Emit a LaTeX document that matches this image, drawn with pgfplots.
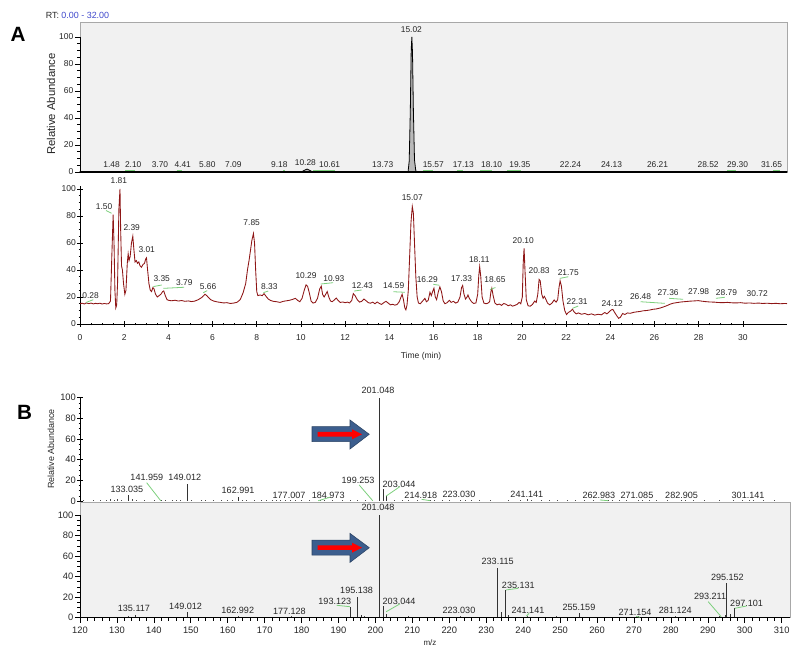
\documentclass[border=0pt]{standalone}
\usepackage{pgfplots}
\pgfplotsset{compat=1.18}
\usepackage{fontspec}
\setmainfont{Liberation Sans}

\definecolor{bg}{HTML}{F1F1F1}
\definecolor{frame}{HTML}{A8A8A8}
\definecolor{trace}{HTML}{8E1616}
\definecolor{lead}{HTML}{7CCF7C}
\definecolor{arrowblue}{HTML}{3C5E8E}
\definecolor{rtblue}{HTML}{3F48CC}

\pgfplotsset{
  base/.style={scale only axis, clip=false,
    axis line style={black, line width=0.5pt, -},
    tick style={black, line width=0.45pt},
    tick align=outside, major tick length=3.8pt, minor tick length=2.2pt,
    /pgf/number format/assume math mode=true,
    yticklabel style={inner sep=1pt},
  },
  chrom/.style={base, width=530.25pt, xmin=0, xmax=32,
    tick label style={font=\fontsize{6.4}{7}\selectfont, text=black!85},
    xticklabel style={inner sep=1pt, yshift=-4.5pt},
    ytick={0,20,...,100}, minor y tick num=3},
  spec/.style={base, width=532.5pt, xmin=120, xmax=312.25,
    tick label style={font=\fontsize{7}{8}\selectfont, text=black!85},
    xticklabel style={inner sep=1pt, yshift=-2.2pt},
    ytick={0,20,...,100}, minor y tick num=3},
}
\tikzset{
  pl/.style={font=\fontsize{6.3}{7}\selectfont, inner sep=0pt, text=black!85},
  sl/.style={font=\fontsize{6.8}{8}\selectfont, inner sep=0pt, text=black!85},
  gl/.style={draw=lead, line width=0.6pt},
}
% label and leader helpers (expanded so they survive pgfplots' deferred drawing)
\newcommand\lablist[2]{\foreach \px/\py/\ptxt in {#2}
  {\edef\tmp{\noexpand\node[#1] at (axis cs:\px,\py) {\ptxt};}\tmp}}
\newcommand\leadlist[1]{\foreach \pa/\pb/\pc/\pd in {#1}
  {\edef\tmp{\noexpand\draw[gl] (axis cs:\pa,\pb) -- (axis cs:\pc,\pd);}\tmp}}

\begin{document}
\begin{tikzpicture}

% ---------- A: top chromatogram ----------
\begin{axis}[chrom, at={(60pt,-129pt)}, anchor=south west,
  height=112.5pt, ymin=0, ymax=111.1,
  axis background/.style={fill=bg}, axis line style={draw=frame},
  xtick=\empty, ytick pos=left]
\addplot[draw=black, line width=0.6pt, fill=gray!55] coordinates {
  (0,0.3) (10.05,0.3) (10.15,1.2) (10.28,2.2) (10.4,1.2) (10.5,0.3)
  (14.85,0.3) (14.9,8) (14.95,45) (14.99,90) (15.02,100) (15.05,88)
  (15.09,45) (15.14,9) (15.2,0.6) (15.3,0.3) (32,0.3)} \closedcycle;
\draw[black, line width=0.5pt] (axis cs:0,0) -- (axis cs:0,100);
\draw[black, line width=1.3pt] (axis cs:0,0) -- (axis cs:32,0);
\node[pl] at (axis cs:15.0,105.7) {15.02};
\node[pl] at (axis cs:10.2,6.7) {10.28};
\lablist{pl}{1.43/5.2/1.48, 2.41/5.2/2.10, 3.62/5.2/3.70, 4.65/5.2/4.41,
  5.76/5.2/5.80, 6.94/5.2/7.09, 9.02/5.2/9.18, 11.3/5.2/10.61,
  13.7/5.2/13.73, 15.99/5.2/15.57, 17.35/5.2/17.13, 18.63/5.2/18.10,
  19.91/5.2/19.35, 22.2/5.2/22.24, 24.06/5.2/24.13, 26.14/5.2/26.21,
  28.43/5.2/28.52, 29.76/5.2/29.30, 31.3/5.2/31.65}
\leadlist{2.04/1/2.49/1, 4.37/1/4.6/1, 9.2/1/9.3/1, 10.56/1/11.54/1,
  15.53/1/15.98/1, 17.06/1/17.33/1, 18.1/1/18.63/1, 19.32/1/19.98/1,
  29.3/1/29.7/1, 31.36/1/31.67/1}
\end{axis}

% ---------- A: bottom chromatogram ----------
\begin{axis}[chrom, at={(60pt,-243pt)}, anchor=south west,
  height=103.28pt, ymin=0, ymax=102,
  axis x line=bottom, axis y line=left, axis line style={-},
  xtick={0,2,...,30}, minor x tick num=3]
\addplot[trace, line width=0.65pt] coordinates {
(0.00,15.0) (0.10,15.4) (0.20,14.8) (0.28,15.6) (0.40,15.1) (0.50,15.5)
(0.60,14.9) (0.70,15.3) (0.80,15.0) (0.90,15.4) (1.00,14.8) (1.10,15.2)
(1.20,14.9) (1.30,15.1) (1.38,17) (1.44,50) (1.50,81) (1.54,60) (1.58,25)
(1.62,12) (1.66,14) (1.70,30) (1.76,85) (1.81,100) (1.84,70) (1.88,43)
(1.92,40) (1.97,30) (2.03,22) (2.08,25) (2.14,45) (2.18,52) (2.22,47)
(2.27,50) (2.33,60) (2.39,65) (2.44,55) (2.49,46) (2.55,47) (2.60,45)
(2.66,46) (2.72,43) (2.78,42) (2.85,44) (2.92,45) (2.97,48) (3.01,49)
(3.06,40) (3.12,30) (3.18,25) (3.24,24) (3.30,27) (3.35,26) (3.42,22)
(3.50,20) (3.58,21) (3.66,22) (3.74,24) (3.79,24.5) (3.86,21) (3.94,18)
(4.02,17.5) (4.15,17.2) (4.30,17.6) (4.45,17.0) (4.60,17.4) (4.75,16.8)
(4.90,17.1) (5.05,16.6) (5.20,17.0) (5.35,18.0) (5.50,19.5) (5.60,21.0)
(5.66,22) (5.74,21) (5.82,19.5) (5.92,18) (6.05,17.0) (6.20,16.4)
(6.35,16.0) (6.50,15.6) (6.65,15.8) (6.80,15.2) (6.95,15.5) (7.10,16.0)
(7.25,18) (7.38,23) (7.50,30) (7.58,40) (7.66,48) (7.72,55) (7.78,62)
(7.85,67) (7.90,60) (7.95,40) (8.00,24) (8.05,21) (8.15,21.5) (8.25,21.0)
(8.33,22.5) (8.42,20.5) (8.52,18.5) (8.62,17.5) (8.75,16.8) (8.90,16.5)
(9.05,16.0) (9.20,16.8) (9.35,17.2) (9.50,17.6) (9.65,18.4) (9.75,19)
(9.85,17.5) (9.95,16.5) (10.05,19) (10.15,25) (10.23,29) (10.30,28)
(10.38,23) (10.46,17) (10.55,15.5) (10.65,16) (10.75,19) (10.85,26)
(10.92,28) (10.98,22) (11.05,20) (11.12,22) (11.19,24) (11.26,20)
(11.34,17) (11.42,16.5) (11.52,18) (11.60,19.2) (11.68,17.5) (11.78,16)
(11.90,16.3) (12.00,15.8) (12.10,16.2) (12.20,15.6) (12.30,17.5)
(12.37,22.5) (12.45,21) (12.55,18) (12.65,16.2) (12.75,16.8) (12.85,18.5)
(12.95,17.2) (13.05,15.8) (13.15,15.4) (13.25,16.2) (13.35,15.0)
(13.45,16.3) (13.55,15.2) (13.65,14.5) (13.75,15.8) (13.85,16.8)
(13.95,15.5) (14.05,14.2) (14.15,14.6) (14.25,14.0) (14.35,14.4)
(14.45,16.5) (14.53,20) (14.58,22) (14.64,18) (14.70,12) (14.75,10.5)
(14.80,14) (14.86,25) (14.92,50) (14.98,75) (15.04,87) (15.09,82)
(15.14,60) (15.20,35) (15.26,20) (15.32,15.5) (15.40,15.0) (15.48,16.5)
(15.56,18) (15.61,19) (15.68,16.5) (15.76,17.5) (15.84,23.5) (15.90,21)
(15.96,24) (16.02,26.5) (16.08,20) (16.14,18) (16.22,24) (16.29,27.5)
(16.36,24) (16.44,17) (16.52,15) (16.62,15.8) (16.72,17.5) (16.80,16)
(16.90,16.8) (17.00,15.5) (17.10,16.2) (17.20,20) (17.27,27) (17.32,28.5)
(17.38,22) (17.45,18.5) (17.52,20) (17.56,21.5) (17.62,19) (17.72,16.5)
(17.82,15.2) (17.92,15.6) (18.00,22) (18.05,36) (18.09,42.5) (18.14,35)
(18.20,20) (18.28,15.5) (18.38,15) (18.46,15.4) (18.54,16.5) (18.60,24)
(18.64,26.5) (18.70,21) (18.78,15.5) (18.88,14.2) (18.98,14.8)
(19.08,13.8) (19.18,15.2) (19.28,14.6) (19.38,13.5) (19.48,14.2)
(19.58,13.2) (19.68,13.8) (19.78,14.5) (19.88,16) (19.95,15) (20.02,20)
(20.06,45) (20.10,56) (20.14,40) (20.20,18) (20.28,13.5) (20.38,13.2)
(20.48,14.5) (20.58,17) (20.65,16) (20.72,22) (20.78,33) (20.83,32)
(20.90,22) (20.96,19) (21.02,20.5) (21.08,18.5) (21.16,15.5) (21.26,14.2)
(21.36,15.4) (21.46,17.8) (21.55,16.2) (21.62,18) (21.68,27) (21.73,32)
(21.79,28) (21.86,17) (21.94,10) (22.02,7) (22.10,8.5) (22.20,9.5)
(22.29,11) (22.36,9) (22.46,7.5) (22.56,8.2) (22.70,7.2) (22.85,7.8)
(23.00,6.8) (23.15,7.5) (23.30,6.6) (23.45,7.2) (23.60,6.8) (23.75,8.5)
(23.85,7.5) (23.95,9) (24.05,10.5) (24.12,10.8) (24.20,8.5) (24.30,6)
(24.38,4.2) (24.46,5) (24.56,7.8) (24.66,7.0) (24.78,8.2) (24.90,7.9)
(25.05,8.6) (25.20,9.0) (25.35,9.3) (25.50,9.8) (25.65,10.0) (25.80,10.4)
(25.94,10.9) (26.10,11.2) (26.25,11.8) (26.40,12.6) (26.55,13.5)
(26.70,14.6) (26.85,15.4) (27.00,15.8) (27.20,16.3) (27.40,16.6)
(27.60,16.9) (27.80,17.1) (27.98,17.3) (28.15,16.9) (28.30,16.6)
(28.50,16.3) (28.70,16.2) (28.90,15.9) (29.10,15.8) (29.30,16.0)
(29.50,15.7) (29.70,15.6) (29.90,15.8) (30.10,15.4) (30.30,15.6)
(30.50,15.3) (30.72,15.5) (30.90,15.2) (31.10,15.4) (31.30,15.1)
(31.50,15.3) (31.70,15.0) (31.90,15.2) (32.00,15.1)};
\lablist{pl}{0.48/20.7/0.28, 1.09/86.9/1.50, 1.76/106/1.81,
  2.34/71.4/2.39, 3.02/54.8/3.01, 3.7/33.3/3.35, 4.72/30.6/3.79,
  5.8/27.7/5.66, 7.77/75/7.85, 8.57/27.7/8.33, 10.23/35.8/10.29,
  11.49/33.8/10.93, 12.78/28.1/12.43, 14.2/28.1/14.59, 15.04/93.6/15.07,
  15.72/33.1/16.29, 17.27/33.8/17.33, 18.07/47.9/18.11, 18.78/32.6/18.65,
  20.06/61.7/20.10, 20.78/39.5/20.83, 22.1/38.3/21.75, 22.5/16.8/22.31,
  24.09/15.3/24.12, 25.37/20.2/26.48, 26.62/23.2/27.36, 28.0/23.7/27.98,
  29.26/23.2/28.79, 30.65/22.2/30.72}
\leadlist{0.28/16/0.6/18, 1.18/84/1.43/82, 3.32/27.7/3.7/28.9,
  3.77/26.4/4.71/27.2, 5.58/23.2/5.76/24.7, 8.3/23.2/8.52/24.4,
  10.89/29.6/11.46/30.6, 12.41/24.4/12.75/25.2, 14.18/23.9/14.7/23.5,
  15.99/29.4/16.26/28.7, 18.56/25.5/18.8/27, 21.72/33.8/22.1/35,
  22.29/11.6/22.55/13.3, 25.37/16.5/26.47/15.3, 26.67/19/27.3/18.3,
  28.78/19/29.19/19.8}
\end{axis}

% ---------- B: top spectrum ----------
\begin{axis}[spec, at={(60pt,-375.75pt)}, anchor=south west,
  height=78.25pt, ymin=0, ymax=101,
  axis y line=left, axis x line=none, axis line style={-}, xtick=\empty]
\addplot[ycomb, black!70, line width=0.45pt] coordinates {
(121,0.6) (123.5,0.5) (125.5,0.7) (127.2,1.2) (128.1,1.5) (129.3,0.9)
(130.2,1.6) (131.1,1.0) (134.1,1.8) (135.2,1.2) (137.5,0.6) (140,0.5)
(141.96,0.8) (143.1,0.7) (145,0.8) (146.2,0.6) (147.1,0.7) (150.1,1.0)
(152.8,0.6) (154,0.7) (156,0.6) (158.2,0.5) (160,0.7) (161.2,0.6)
(163.9,1.0) (165.1,0.7) (167.3,0.5) (169,0.8) (170.5,0.8) (172,0.9)
(173.2,1.0) (174.3,0.8) (175.5,0.9) (177.0,0.8) (178.4,0.6) (180,0.8)
(182.1,0.5) (184.97,1.0) (186.2,0.7) (188.3,0.6) (191,0.8) (193.2,0.7)
(195.1,0.9) (197.3,0.6) (199.25,1.0) (205.1,0.7) (207.2,0.6) (209,0.9)
(211.2,0.6) (214.9,1.0) (215.8,1.1) (218,0.6) (220.1,0.7) (223.03,1.2)
(224.2,0.9) (226,0.6) (228.1,0.7) (231,0.6) (236,0.7) (239.2,1.0)
(241.14,1.5) (242.2,1.2) (245,0.8) (247,0.6) (249.3,0.7) (252,0.6)
(254,0.6) (256.5,0.6) (259,0.7) (262.98,0.8) (264,0.9) (266.1,0.6)
(268,0.8) (271.09,0.9) (272.2,0.7) (274.1,0.9) (276,0.6) (279,0.8)
(282.9,0.8) (284,0.7) (286,0.6) (289,0.6) (293,0.6) (297,0.8)
(299.2,0.7) (301.14,0.8) (302.2,0.6) (305,0.6) (308,0.6)};
\addplot[ycomb, black!80, line width=0.75pt] coordinates {
(133.035,5.5) (149.012,16.5) (162.991,3.9) (201.048,100) (202.05,11.3)
(203.044,4.8)};
\lablist{sl}{132.7/11.6/133.035, 138.1/22.6/141.959,
  148.4/22.6/149.012, 162.8/10.6/162.991, 176.6/5.8/177.007,
  187.2/5.8/184.973, 195.3/20.3/199.253, 200.7/106.8/201.048,
  206.4/16.5/203.044, 212.3/5.8/214.918, 222.6/6.8/223.030,
  241.0/6.8/241.141, 260.5/5.8/262.983, 270.8/5.8/271.085,
  282.9/5.8/282.905, 300.9/5.8/301.141}
\leadlist{138.05/17.7/141.85/0.3, 184.5/0.3/187.7/3.6,
  195.6/15.5/199.25/0.3, 202.9/4.8/206.65/14, 212.5/1.6/214.8/0.3,
  260.8/1/263/0.3}
\end{axis}

% ---------- B: bottom spectrum ----------
\begin{axis}[spec, at={(60pt,-463.275pt)}, anchor=south west,
  height=86.8pt, ymin=0, ymax=112.7,
  axis background/.style={fill=bg}, axis line style={draw=frame},
  xtick={120,130,...,310}, minor x tick num=4, xtick pos=left, ytick pos=left]
\addplot[ycomb, black!70, line width=0.45pt] coordinates {
(123,0.6) (127,0.7) (129,0.8) (131.0,1.0) (133.1,1.5) (137,0.8)
(139.2,0.7) (143,0.6) (146,0.7) (151,0.8) (154,0.6) (157,0.6)
(159,0.7) (162.99,1.5) (165,0.6) (168,0.7) (170,0.6) (173,0.8)
(175,0.8) (177.13,1.2) (179,0.6) (182,0.7) (185,0.7) (187,0.6)
(189,0.8) (191,0.7) (194.1,1.0) (197,1.2) (199,0.8) (205,0.8)
(207,0.7) (209,1.2) (211,0.8) (213,1.0) (216,0.8) (219,1.0)
(223.03,1.2) (225,0.8) (227,0.6) (229,0.8) (231,1.0) (239,1.0)
(241.14,1.5) (244,0.8) (247,0.7) (249,1.2) (251,0.7) (253,1.0)
(257,0.8) (260,0.7) (263,0.8) (265,0.6) (267,1.0) (271.15,1.2)
(273,0.7) (275,0.8) (277,0.6) (279,0.8) (281.12,1.2) (283,0.7)
(285,0.8) (287,0.6) (289,0.7) (291,1.0) (293.21,1.5) (299,1.0)
(301,0.7) (303,0.8) (305,0.6) (307,0.6) (309,0.6)};
\addplot[ycomb, black!80, line width=0.75pt] coordinates {
(135.117,2.6) (149.012,5.8) (193.123,10) (195.138,20.5) (196.1,3)
(201.048,100) (202.05,11.4) (203.044,4) (233.115,48) (234.1,5.8)
(235.131,27) (236.1,3) (255.159,4.3) (294.8,3) (295.152,33.5)
(296.1,4) (297.101,9)};
\draw[black, line width=0.5pt] (axis cs:120,0) -- (axis cs:120,100);
\draw[black, line width=0.5pt] (axis cs:120,0) -- (axis cs:312.25,0);
\lablist{sl}{134.6/8.8/135.117, 148.6/11.4/149.012,
  162.7/7.5/162.992, 176.7/6.2/177.128, 189.0/16.3/193.123,
  194.9/26.3/195.138, 200.7/107.8/201.048, 206.4/16.3/203.044,
  222.6/7.5/223.030, 233.1/54.5/233.115, 238.7/31.8/235.131,
  241.3/6.8/241.141, 255.1/10.1/255.159, 270.3/5.5/271.154,
  281.2/6.8/281.124, 290.6/20.4/293.211, 295.3/38.9/295.152,
  300.5/14.0/297.101}
\leadlist{189.5/12.1/193.1/10.7, 202.9/5.8/206.65/13.5,
  235.35/27/238.7/28.6, 240.9/1.6/241.6/4.3, 270.6/1.2/271.6/0.5,
  290.1/15.6/293.6/1, 297.35/9.2/300.5/11.4}
\end{axis}

% ---------- labels and arrows (pixel grid of the reference) ----------
\begin{scope}[x=0.75pt, y=-0.75pt]
\path (0,0) rectangle (800,655);
\node[font=\bfseries\fontsize{15.5}{16}\selectfont, inner sep=0pt] at (18,34) {A};
\node[font=\bfseries\fontsize{15.5}{16}\selectfont, inner sep=0pt] at (24.5,412.7) {B};
\node[font=\fontsize{6.7}{8}\selectfont, anchor=west, inner sep=0pt, text=black!85]
  at (45.5,15) {RT: \textcolor{rtblue}{0.00 - 32.00}};
\node[rotate=90, font=\fontsize{8.5}{9}\selectfont, inner sep=0pt, text=black!85]
  at (51,104) {Relative Abundance};
\node[rotate=90, font=\fontsize{6.7}{8}\selectfont, inner sep=0pt, text=black!85]
  at (51,449) {Relative Abundance};
\node[font=\fontsize{6.4}{7}\selectfont, inner sep=0pt, text=black!85] at (421,356) {Time (min)};
\node[font=\fontsize{6}{7}\selectfont, inner sep=0pt, text=black!85] at (430,643) {m/z};
\foreach \dy in {0,113.4} {
\begin{scope}[shift={(0,\dy)}]
\filldraw[fill=arrowblue, draw=arrowblue!70!black, line width=0.4pt]
  (312,426.7) -- (350,426.7) -- (350,420) -- (369.3,434.3) -- (350,449)
  -- (350,441.7) -- (312,441.7) -- cycle;
\fill[red] (317.7,432.0) -- (352,432.0) -- (352,429.3) -- (362,434.3)
  -- (352,439.3) -- (352,436.6) -- (317.7,436.6) -- cycle;
\end{scope}}
\end{scope}

\end{tikzpicture}
\end{document}
